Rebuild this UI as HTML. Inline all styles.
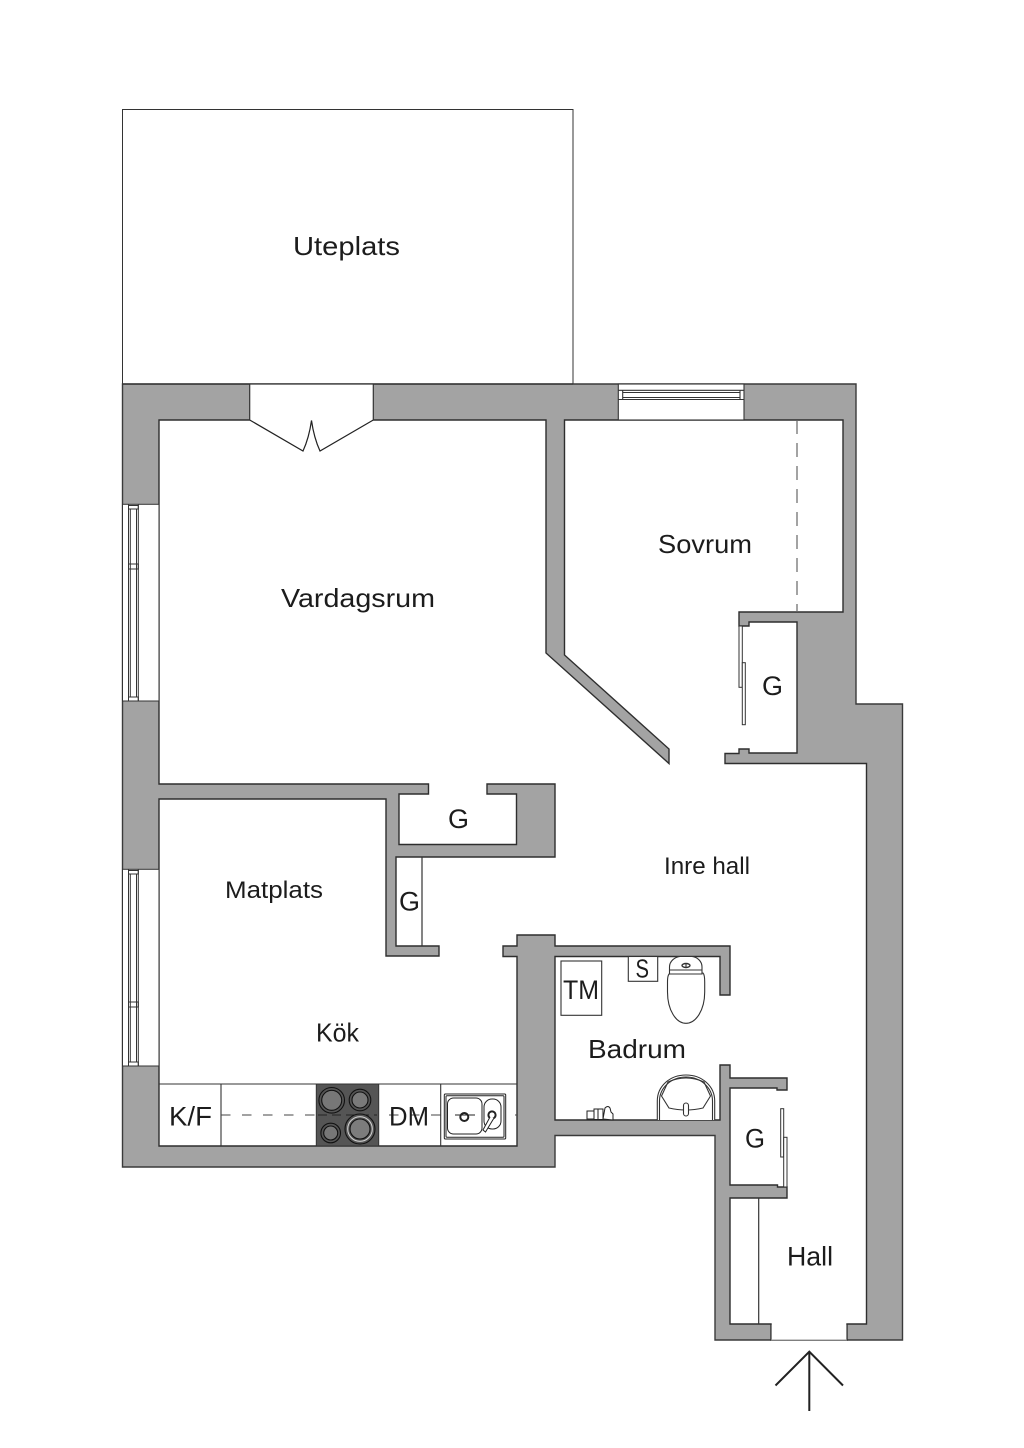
<!DOCTYPE html>
<html>
<head>
<meta charset="utf-8">
<style>
html,body{margin:0;padding:0;background:#fff;width:1024px;height:1448px;overflow:hidden}
svg{display:block}
text{font-family:"Liberation Sans",sans-serif;fill:#1c1c1c}
</style>
</head>
<body>
<svg width="1024" height="1448" viewBox="0 0 1024 1448" xmlns="http://www.w3.org/2000/svg">
<rect width="1024" height="1448" fill="#fff"/>
<!-- terrace -->
<rect x="122.5" y="109.5" width="450.5" height="274.5" fill="#fff" stroke="#333" stroke-width="1"/>
<!-- walls -->
<path d="M122.5 384H856V704H902.5V1340H715V1135.5H555V1167H122.5Z" fill="#a3a3a3" stroke="#3a3a3a" stroke-width="1.4"/>
<!-- interior -->
<path d="M159 420H546V653L669 763.5V749L564.5 655V420H843V612H739V626H749V622H797V753H749V749H739V753.5H725V763.5H866.5V1324H847V1340H771V1324H730V1198H787V1187H777.5V1185H730V1088H777V1090H787V1078H730V1065H720V1120H555V956.5H720V995H730V946H555V935H517V946H503V956.5H517V1146H159V799H386V956H439V946H396V857H555V784H487V794H516.5V844.5H399V794H428.5V784H159Z" fill="#fff" stroke="#2e2e2e" stroke-width="1.4" stroke-linejoin="miter"/>
<!-- entry opening -->
<rect x="771.7" y="1325" width="74.6" height="15" fill="#fff"/>
<line x1="771" y1="1340" x2="847" y2="1340" stroke="#999" stroke-width="1"/>

<!-- French door -->
<rect x="249.7" y="384" width="123.6" height="36.8" fill="#fff"/>
<path d="M249.7 384V420M373.3 384V420M122.5 384H573" fill="none" stroke="#333" stroke-width="1.2"/>
<path d="M249.7 420L303 451Q309 438 311.5 420.5Q314 438 320 451L373.3 420" fill="#fff" stroke="#222" stroke-width="1.2"/>

<!-- top window -->
<g fill="none" stroke="#333" stroke-width="1.1">
<rect x="618.3" y="384" width="125.7" height="36" fill="#fff"/>
<line x1="618.3" y1="390.3" x2="744" y2="390.3"/>
<line x1="618.3" y1="399.5" x2="744" y2="399.5"/>
<line x1="622.7" y1="392.5" x2="740" y2="392.5"/>
<line x1="622.7" y1="397.5" x2="740" y2="397.5"/>
<line x1="622.7" y1="390.3" x2="622.7" y2="399.5"/>
<line x1="740" y1="390.3" x2="740" y2="399.5"/>
</g>

<!-- left windows -->
<g fill="none" stroke="#333" stroke-width="1">
<rect x="122.5" y="504.3" width="36.5" height="196.7" fill="#fff"/>
<line x1="128.5" y1="504.3" x2="128.5" y2="701"/>
<line x1="138.3" y1="504.3" x2="138.3" y2="701"/>
<line x1="130.3" y1="509" x2="130.3" y2="697"/>
<line x1="136.5" y1="509" x2="136.5" y2="697"/>
<rect x="128.5" y="505.5" width="9.8" height="3.5"/>
<rect x="128.5" y="564" width="9.8" height="5"/>
<rect x="128.5" y="697" width="9.8" height="4"/>
<rect x="122.5" y="869.3" width="36.5" height="196.7" fill="#fff"/>
<line x1="128.5" y1="869.3" x2="128.5" y2="1066"/>
<line x1="138.3" y1="869.3" x2="138.3" y2="1066"/>
<line x1="130.3" y1="874" x2="130.3" y2="1062"/>
<line x1="136.5" y1="874" x2="136.5" y2="1062"/>
<rect x="128.5" y="870.5" width="9.8" height="3.5"/>
<rect x="128.5" y="1002" width="9.8" height="5"/>
<rect x="128.5" y="1062" width="9.8" height="4"/>
</g>

<!-- dashed bedroom line -->
<line x1="797" y1="420" x2="797" y2="612" stroke="#666" stroke-width="1.2" stroke-dasharray="14 9"/>

<!-- closet doors -->
<g fill="#fff" stroke="#333" stroke-width="1">
<rect x="739" y="626" width="3.3" height="61.3"/>
<rect x="742.3" y="662.7" width="3" height="62"/>
<rect x="780.7" y="1108.7" width="3" height="48.3"/>
<rect x="783.7" y="1137.3" width="3.3" height="49.7"/>
</g>
<line x1="422" y1="857" x2="422" y2="946" stroke="#333" stroke-width="1.2"/>
<line x1="758.7" y1="1198" x2="758.7" y2="1324" stroke="#333" stroke-width="1.2"/>

<!-- kitchen counter -->
<g stroke="#333" stroke-width="1.1" fill="none">
<line x1="159" y1="1084" x2="517" y2="1084"/>
<line x1="221" y1="1084" x2="221" y2="1146"/>
<line x1="440.7" y1="1084" x2="440.7" y2="1146"/>
</g>
<line x1="221" y1="1115" x2="517" y2="1115" stroke="#444" stroke-width="1" stroke-dasharray="9.5 11.5"/>
<rect x="316.3" y="1084" width="62.4" height="62" fill="#555" stroke="#333" stroke-width="1"/>
<line x1="318" y1="1115" x2="377" y2="1115" stroke="#222" stroke-width="1" stroke-dasharray="9 5"/>
<g stroke="#111" stroke-width="1.1">
<circle cx="331.7" cy="1100.3" r="12.8" fill="#555"/><circle cx="331.7" cy="1100.3" r="10" fill="#777"/>
<circle cx="360" cy="1100" r="10.8" fill="#555"/><circle cx="360" cy="1100" r="8" fill="#7a7a7a"/>
<circle cx="330.7" cy="1133" r="9.8" fill="#555"/><circle cx="330.7" cy="1133" r="7" fill="#777"/><circle cx="360" cy="1129" r="15" fill="#555"/><circle cx="360" cy="1129" r="12.3" fill="#555" stroke="#ccc"/><circle cx="360" cy="1129" r="10" fill="#7c7c7c"/>
</g>

<!-- sink -->
<g fill="none" stroke="#222" stroke-width="1">
<rect x="444.3" y="1094" width="61.4" height="45" rx="1" fill="#fff"/>
<rect x="446" y="1095.7" width="58" height="41.6" rx="1"/>
<rect x="447.5" y="1098" width="34.5" height="36" rx="6"/>
<rect x="484" y="1099" width="17" height="30" rx="8"/>
<circle cx="464.3" cy="1117" r="4" stroke-width="2"/>
<circle cx="492" cy="1115" r="3.6" stroke-width="2"/>
<path d="M490 1117L483 1130L485.5 1132L494 1118" fill="#fff"/>
<line x1="455" y1="1115" x2="475" y2="1115"/>
</g>

<!-- bathroom fixtures -->
<g fill="#fff" stroke="#333" stroke-width="1.1">
<rect x="561" y="961" width="40.7" height="54.3"/>
<rect x="628.3" y="956.5" width="29.4" height="24.8"/>
<path d="M667.5 982C667.5 975 669 974 670 973H703C704 974 704.7 976 704.7 982V992C704.7 1010 696 1023.3 686 1023.3C676 1023.3 667.5 1010 667.5 992Z"/>
<path d="M669.5 974V967C669.5 961 675 957 680 956.5H692C697 957 702 961 702 967V974Z"/>
<line x1="669.5" y1="970" x2="702" y2="970"/>
<ellipse cx="686" cy="965.5" rx="4" ry="2" stroke-width="1.4"/>
<line x1="686" y1="963.5" x2="686" y2="967.5"/>
<path d="M657.3 1120V1101C657.3 1086 670 1075 686 1075C702 1075 714.7 1086 714.7 1101V1120"/>
<path d="M659.5 1120V1101C659.5 1088 671 1077 686 1077C701 1077 712.5 1088 712.5 1101V1120" fill="none"/>
<path d="M661.5 1096L668 1082Q686 1074 704 1082L710.5 1096L703 1108Q686 1112 669 1108Z" fill="none"/>
<rect x="683.5" y="1103" width="5" height="13" rx="2.5"/>
</g>
<g fill="#fff" stroke="#222" stroke-width="1">
<rect x="587" y="1111" width="7" height="8"/>
<rect x="594" y="1109" width="8" height="10.5"/>
<rect x="598" y="1109" width="5" height="10.5"/>
<path d="M603 1119L605 1108Q608 1105 610 1108L611 1112L613 1114V1120Z"/>
</g>

<!-- entry arrow -->
<path d="M775.5 1385.5L809.3 1351.7L843 1385.5M809.3 1351.7V1411" fill="none" stroke="#222" stroke-width="2"/>

<!-- labels -->
<text x="293" y="255" font-size="26" textLength="107" lengthAdjust="spacingAndGlyphs">Uteplats</text>
<text x="281" y="607" font-size="26" textLength="154" lengthAdjust="spacingAndGlyphs">Vardagsrum</text>
<text x="658" y="553" font-size="26" textLength="94" lengthAdjust="spacingAndGlyphs">Sovrum</text>
<text x="762" y="695" font-size="27" textLength="21" lengthAdjust="spacingAndGlyphs">G</text>
<text x="664" y="874" font-size="24" textLength="86" lengthAdjust="spacingAndGlyphs">Inre hall</text>
<text x="225" y="898" font-size="24" textLength="98" lengthAdjust="spacingAndGlyphs">Matplats</text>
<text x="316" y="1041.7" font-size="26" textLength="43" lengthAdjust="spacingAndGlyphs">Kök</text>
<text x="448" y="828" font-size="27" textLength="21" lengthAdjust="spacingAndGlyphs">G</text>
<text x="399" y="910.7" font-size="27" textLength="21" lengthAdjust="spacingAndGlyphs">G</text>
<text x="169" y="1125.7" font-size="27" textLength="43" lengthAdjust="spacingAndGlyphs">K/F</text>
<text x="389" y="1125.7" font-size="27" textLength="40" lengthAdjust="spacingAndGlyphs">DM</text>
<text x="563" y="999" font-size="27" textLength="36" lengthAdjust="spacingAndGlyphs">TM</text>
<text x="635.5" y="977.3" font-size="26" textLength="13.5" lengthAdjust="spacingAndGlyphs">S</text>
<text x="588" y="1058" font-size="26" textLength="98" lengthAdjust="spacingAndGlyphs">Badrum</text>
<text x="745" y="1147.7" font-size="27" textLength="20" lengthAdjust="spacingAndGlyphs">G</text>
<text x="787" y="1265.7" font-size="27" textLength="46" lengthAdjust="spacingAndGlyphs">Hall</text>
</svg>
</body>
</html>
